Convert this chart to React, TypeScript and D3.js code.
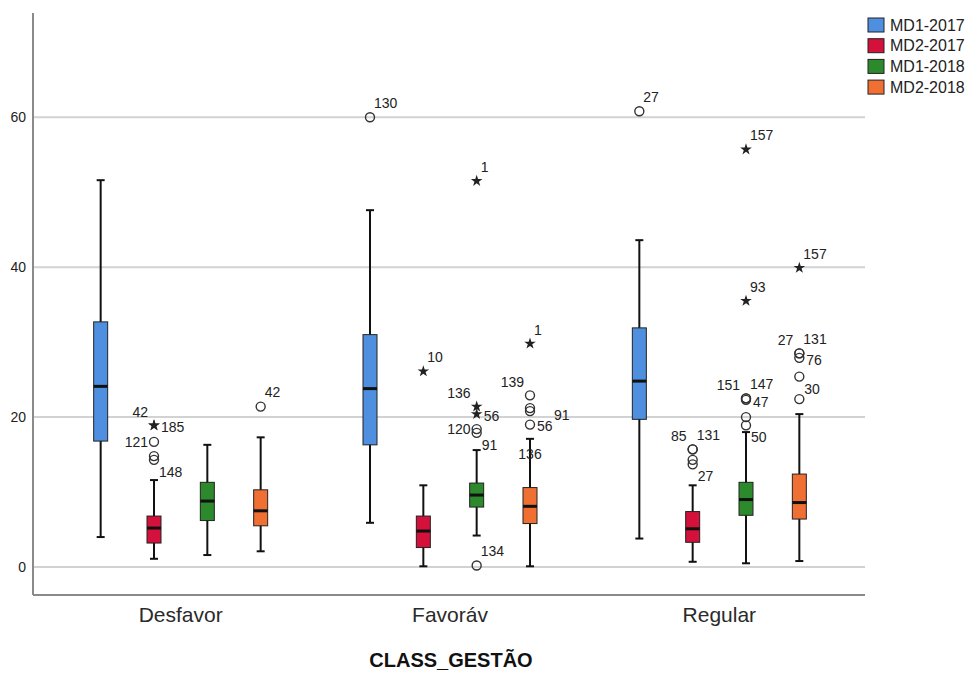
import React, { useRef, useEffect } from 'react';
import * as d3 from 'd3';

const categories = ['Desfavor', 'Favoráv', 'Regular'];
const seriesNames = ['MD1-2017', 'MD2-2017', 'MD1-2018', 'MD2-2018'];
const seriesColors = ['#4f8fdf', '#d4113a', '#2c8a2c', '#f07033'];
const yTicks = [0, 20, 40, 60];

// [whisker low, q1, median, q3, whisker high] per category
const md1_2017 = [[4.0, 16.8, 24.1, 32.7, 51.6], [5.9, 16.3, 23.8, 31.0, 47.6], [3.8, 19.7, 24.8, 31.9, 43.6]];
const md2_2017 = [[1.1, 3.2, 5.2, 6.8, 11.6], [0.1, 2.6, 4.8, 6.8, 10.9], [0.7, 3.3, 5.1, 7.4, 10.9]];
const md1_2018 = [[1.6, 6.2, 8.8, 11.3, 16.3], [4.2, 8.0, 9.6, 11.2, 15.6], [0.5, 6.9, 9.0, 11.3, 18.0]];
const md2_2018 = [[2.1, 5.5, 7.5, 10.3, 17.3], [0.1, 5.8, 8.1, 10.6, 17.1], [0.8, 6.4, 8.6, 12.4, 20.4]];
const boxStats = [md1_2017, md2_2017, md1_2018, md2_2018];

// outliers: category, series, value, kind ('o' circle, '*' extreme, '' label only), case label, label side
const outliers = [
  { c: 'Desfavor', s: 'MD2-2017', v: 18.9, k: '*', label: '185', pos: 'r' },
  { c: 'Desfavor', s: 'MD2-2017', v: 18.9, k: '*', label: '42', pos: 'ul' },
  { c: 'Desfavor', s: 'MD2-2017', v: 16.7, k: 'o', label: '121', pos: 'l' },
  { c: 'Desfavor', s: 'MD2-2017', v: 14.8, k: 'o', label: '', pos: '' },
  { c: 'Desfavor', s: 'MD2-2017', v: 14.3, k: 'o', label: '148', pos: 'dr' },
  { c: 'Desfavor', s: 'MD2-2018', v: 21.4, k: 'o', label: '42', pos: 'ur' },

  { c: 'Favoráv', s: 'MD1-2017', v: 60.0, k: 'o', label: '130', pos: 'ur' },
  { c: 'Favoráv', s: 'MD2-2017', v: 26.1, k: '*', label: '10', pos: 'ur' },
  { c: 'Favoráv', s: 'MD1-2018', v: 51.5, k: '*', label: '1', pos: 'ur' },
  { c: 'Favoráv', s: 'MD1-2018', v: 21.4, k: '*', label: '136', pos: 'ul' },
  { c: 'Favoráv', s: 'MD1-2018', v: 20.4, k: '*', label: '56', pos: 'r' },
  { c: 'Favoráv', s: 'MD1-2018', v: 18.4, k: 'o', label: '120', pos: 'l' },
  { c: 'Favoráv', s: 'MD1-2018', v: 17.9, k: 'o', label: '91', pos: 'dr' },
  { c: 'Favoráv', s: 'MD1-2018', v: 0.2, k: 'o', label: '134', pos: 'ur' },
  { c: 'Favoráv', s: 'MD2-2018', v: 29.8, k: '*', label: '1', pos: 'ur' },
  { c: 'Favoráv', s: 'MD2-2018', v: 22.9, k: 'o', label: '139', pos: 'ul' },
  { c: 'Favoráv', s: 'MD2-2018', v: 21.2, k: 'o', label: '', pos: '' },
  { c: 'Favoráv', s: 'MD2-2018', v: 20.8, k: 'o', label: '91', pos: 'rr' },
  { c: 'Favoráv', s: 'MD2-2018', v: 19.0, k: 'o', label: '56', pos: 'r' },
  { c: 'Favoráv', s: 'MD2-2018', v: 17.1, k: '', label: '136', pos: 'd' },

  { c: 'Regular', s: 'MD1-2017', v: 60.8, k: 'o', label: '27', pos: 'ur' },
  { c: 'Regular', s: 'MD2-2017', v: 15.7, k: 'o', label: '85', pos: 'ul' },
  { c: 'Regular', s: 'MD2-2017', v: 15.7, k: 'o', label: '131', pos: 'ur' },
  { c: 'Regular', s: 'MD2-2017', v: 14.3, k: 'o', label: '', pos: '' },
  { c: 'Regular', s: 'MD2-2017', v: 13.7, k: 'o', label: '27', pos: 'dr' },
  { c: 'Regular', s: 'MD1-2018', v: 55.7, k: '*', label: '157', pos: 'ur' },
  { c: 'Regular', s: 'MD1-2018', v: 35.5, k: '*', label: '93', pos: 'ur' },
  { c: 'Regular', s: 'MD1-2018', v: 22.5, k: 'o', label: '151', pos: 'ul' },
  { c: 'Regular', s: 'MD1-2018', v: 22.5, k: 'o', label: '147', pos: 'ur' },
  { c: 'Regular', s: 'MD1-2018', v: 22.3, k: 'o', label: '47', pos: 'r' },
  { c: 'Regular', s: 'MD1-2018', v: 20.0, k: 'o', label: '', pos: '' },
  { c: 'Regular', s: 'MD1-2018', v: 18.9, k: 'o', label: '50', pos: 'dr' },
  { c: 'Regular', s: 'MD2-2018', v: 39.9, k: '*', label: '157', pos: 'ur' },
  { c: 'Regular', s: 'MD2-2018', v: 28.5, k: 'o', label: '27', pos: 'ul' },
  { c: 'Regular', s: 'MD2-2018', v: 28.5, k: 'o', label: '131', pos: 'ur' },
  { c: 'Regular', s: 'MD2-2018', v: 27.9, k: 'o', label: '76', pos: 'r' },
  { c: 'Regular', s: 'MD2-2018', v: 25.4, k: 'o', label: '30', pos: 'dr' },
  { c: 'Regular', s: 'MD2-2018', v: 22.4, k: 'o', label: '', pos: '' },
];

const labelOffsets: Record<string, [number, number, string]> = {
  r: [7, 2, 'start'],
  rr: [24, 4, 'start'],
  l: [-6, 0, 'end'],
  ur: [4, -14, 'start'],
  ul: [-6, -13, 'end'],
  dr: [5, 12, 'start'],
  d: [0, 15, 'middle'],
};

const App = () => {
  const svgRef = useRef<SVGSVGElement>(null);

  useEffect(() => {
    const svg = d3.select(svgRef.current);
    svg.selectAll('*').remove();

    const width = 975;
    const height = 675;
    const font = 'Arial, "Liberation Sans", sans-serif';
    const plot = { left: 33, right: 865, top: 13, bottom: 595 };

    const y = d3.scaleLinear().domain([-3.73, 73.9]).range([plot.bottom, plot.top]);
    const x = d3.scaleBand().domain(categories).range([46, 854]).padding(0);
    const xs = d3.scalePoint().domain(seriesNames).range([-80, 80]);
    const cx = (c: string, s: string) => (x(c) as number) + x.bandwidth() / 2 + (xs(s) as number);

    svg.append('rect').attr('width', width).attr('height', height).attr('fill', '#fff');

    // gridlines
    svg.append('g')
      .selectAll('line')
      .data(yTicks)
      .join('line')
      .attr('x1', plot.left + 1)
      .attr('x2', plot.right)
      .attr('y1', d => y(d))
      .attr('y2', d => y(d))
      .attr('stroke', '#d2d2d2')
      .attr('stroke-width', 2);

    // y axis
    const yAxis = svg.append('g')
      .attr('transform', `translate(${plot.left},0)`)
      .call(d3.axisLeft(y).tickValues(yTicks).tickSize(0).tickPadding(7));
    yAxis.select('.domain').remove();
    yAxis.selectAll('text').attr('font-family', font).attr('font-size', 14).attr('fill', '#222');

    svg.append('line')
      .attr('x1', plot.left).attr('x2', plot.left)
      .attr('y1', plot.top).attr('y2', plot.bottom)
      .attr('stroke', '#8a8a8a').attr('stroke-width', 2);
    svg.append('line')
      .attr('x1', plot.left).attr('x2', plot.right)
      .attr('y1', plot.bottom).attr('y2', plot.bottom)
      .attr('stroke', '#8a8a8a').attr('stroke-width', 2);

    // x axis labels
    const xAxis = svg.append('g')
      .attr('transform', `translate(0,${plot.bottom})`)
      .call(d3.axisBottom(x).tickSize(0).tickPadding(12));
    xAxis.select('.domain').remove();
    xAxis.selectAll('text').attr('font-family', font).attr('font-size', 21).attr('fill', '#2a2a2a');

    svg.append('text')
      .attr('x', 451)
      .attr('y', 667)
      .attr('text-anchor', 'middle')
      .attr('font-family', font)
      .attr('font-size', 20)
      .attr('font-weight', 'bold')
      .attr('fill', '#111')
      .text('CLASS_GESTÃO');

    // boxes
    const boxW = 14;
    const capW = 8;
    seriesNames.forEach((s, si) => {
      categories.forEach((c, ci) => {
        const [lo, q1, med, q3, hi] = boxStats[si][ci];
        const xc = cx(c, s);
        const g = svg.append('g');
        g.append('line')
          .attr('x1', xc).attr('x2', xc)
          .attr('y1', y(hi)).attr('y2', y(lo))
          .attr('stroke', '#111').attr('stroke-width', 2);
        [lo, hi].forEach(v => {
          g.append('line')
            .attr('x1', xc - capW / 2).attr('x2', xc + capW / 2)
            .attr('y1', y(v)).attr('y2', y(v))
            .attr('stroke', '#111').attr('stroke-width', 2);
        });
        g.append('rect')
          .attr('x', xc - boxW / 2)
          .attr('y', y(q3))
          .attr('width', boxW)
          .attr('height', y(q1) - y(q3))
          .attr('fill', seriesColors[si])
          .attr('stroke', '#222')
          .attr('stroke-width', 1);
        g.append('line')
          .attr('x1', xc - boxW / 2).attr('x2', xc + boxW / 2)
          .attr('y1', y(med)).attr('y2', y(med))
          .attr('stroke', '#111').attr('stroke-width', 3);
      });
    });

    // outliers
    const star = d3.symbol().type(d3.symbolStar).size(42);
    outliers.forEach(o => {
      const xc = cx(o.c, o.s);
      const yc = y(o.v);
      if (o.k === 'o') {
        svg.append('circle')
          .attr('cx', xc).attr('cy', yc).attr('r', 4.5)
          .attr('fill', 'none').attr('stroke', '#333').attr('stroke-width', 1.4);
      } else if (o.k === '*') {
        svg.append('path')
          .attr('d', star())
          .attr('transform', `translate(${xc},${yc})`)
          .attr('fill', '#222');
      }
      if (o.label) {
        const [dx, dy, anchor] = labelOffsets[o.pos];
        svg.append('text')
          .attr('x', xc + dx)
          .attr('y', yc + dy)
          .attr('dy', '0.35em')
          .attr('text-anchor', anchor)
          .attr('font-family', font)
          .attr('font-size', 14)
          .attr('fill', '#222')
          .text(o.label);
      }
    });

    // legend
    const legend = svg.append('g').attr('transform', 'translate(868,25)');
    seriesNames.forEach((s, i) => {
      legend.append('rect')
        .attr('x', 0)
        .attr('y', i * 20.7 - 7)
        .attr('width', 16)
        .attr('height', 14)
        .attr('fill', seriesColors[i])
        .attr('stroke', '#222')
        .attr('stroke-width', 1);
      legend.append('text')
        .attr('x', 22)
        .attr('y', i * 20.7)
        .attr('dy', '0.35em')
        .attr('font-family', font)
        .attr('font-size', 16)
        .attr('fill', '#222')
        .text(s);
    });
  }, []);

  return (
    <svg
      ref={svgRef}
      width={975}
      height={675}
      style={{ position: 'absolute', left: 0, top: 0 }}
    />
  );
};

export default App;
